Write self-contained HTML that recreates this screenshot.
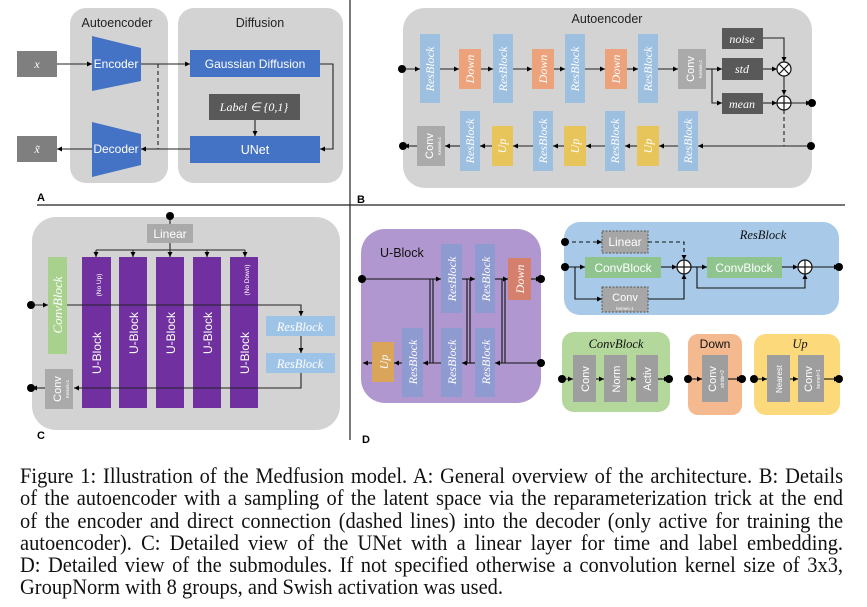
<!DOCTYPE html>
<html><head><meta charset="utf-8"><style>
html,body{margin:0;padding:0;background:#fff;width:867px;height:607px;overflow:hidden}
svg{position:absolute;left:0;top:0}
.cap{position:absolute;left:20px;width:885px;top:465px;font-family:"Liberation Serif",serif;font-size:22px;line-height:22.3px;color:#111;transform:scaleX(0.93);transform-origin:0 0}
.cap div{text-align:justify;text-align-last:justify;white-space:nowrap;overflow:visible}
.cap div.l{text-align-last:left}
.s{font-family:"Liberation Sans",sans-serif}
.m{font-family:"Liberation Serif",serif;font-style:italic}
</style></head><body>
<svg width="867" height="607" viewBox="0 0 867 607">
<defs>
<marker id="a" markerWidth="6" markerHeight="6" refX="5" refY="3" orient="auto" markerUnits="userSpaceOnUse"><path d="M0,0.5 L5,3 L0,5.5z" fill="#000"/></marker>
</defs>
<g stroke="#222" stroke-width="1.2">
<line x1="37" y1="205" x2="845" y2="205"/>
<line x1="350" y1="0" x2="350" y2="440"/>
</g>
<!-- Panel A -->
<rect x="70" y="8" width="98" height="175" rx="16" fill="#d3d3d3"/>
<rect x="178" y="8" width="165" height="175" rx="16" fill="#d3d3d3"/>
<text x="117" y="27" class="s" font-size="12.5" text-anchor="middle" fill="#222">Autoencoder</text>
<text x="260" y="27" class="s" font-size="12.5" text-anchor="middle" fill="#222">Diffusion</text>
<rect x="17" y="51" width="40" height="26" fill="#7f7f7f"/>
<text x="37" y="68" class="m" font-size="12" fill="#fff" text-anchor="middle">x</text>
<rect x="17" y="136" width="40" height="26" fill="#7f7f7f"/>
<text x="37" y="153" class="m" font-size="12" fill="#fff" text-anchor="middle">x̃</text>
<path d="M92,36 L141,48 L141,81 L92,91z" fill="#4472c4"/>
<text x="116" y="68" class="s" font-size="12" fill="#fff" text-anchor="middle">Encoder</text>
<path d="M92,122 L141,134 L141,165 L92,177z" fill="#4472c4"/>
<text x="116" y="153" class="s" font-size="12" fill="#fff" text-anchor="middle">Decoder</text>
<rect x="190" y="50" width="130" height="27" fill="#4472c4"/>
<text x="255" y="68" class="s" font-size="12" fill="#fff" text-anchor="middle">Gaussian Diffusion</text>
<rect x="209" y="94" width="91" height="26" fill="#595959"/>
<text x="254" y="111" class="m" font-size="12" fill="#fff" text-anchor="middle">Label ∈ {0,1}</text>
<rect x="190" y="136" width="130" height="27" fill="#4472c4"/>
<text x="255" y="154" class="s" font-size="12.5" fill="#fff" text-anchor="middle">UNet</text>
<g stroke="#222" stroke-width="1.1" fill="none">
<line x1="57" y1="64" x2="92" y2="64" marker-end="url(#a)"/>
<line x1="141" y1="64" x2="190" y2="64" marker-end="url(#a)"/>
<line x1="158" y1="64" x2="158" y2="149" stroke-dasharray="4,3"/>
<polyline points="320,64 333,64 333,149 320,149" marker-end="url(#a)"/>
<line x1="190" y1="149" x2="141" y2="149" marker-end="url(#a)"/>
<line x1="92" y1="149" x2="57" y2="149" marker-end="url(#a)"/>
<line x1="255" y1="120" x2="255" y2="136" marker-end="url(#a)"/>
</g>
<text x="37" y="201" class="s" font-size="11" font-weight="bold">A</text>

<!-- Panel B -->
<rect x="403" y="8" width="409" height="180" rx="22" fill="#d3d3d3"/>
<text x="607" y="23" class="s" font-size="12.5" text-anchor="middle" fill="#222">Autoencoder</text>
<g fill="#9dbfe0">
<rect x="420" y="34" width="20" height="69"/><rect x="493" y="34" width="20" height="69"/>
<rect x="565" y="34" width="20" height="69"/><rect x="638" y="34" width="20" height="69"/>
<rect x="460" y="111" width="20" height="60"/><rect x="533" y="111" width="20" height="60"/>
<rect x="605" y="111" width="20" height="60"/><rect x="678" y="111" width="20" height="60"/>
</g>
<g fill="#eca27a"><rect x="459" y="49" width="22" height="40"/><rect x="532" y="49" width="22" height="40"/><rect x="605" y="49" width="22" height="40"/></g>
<g fill="#e8c55a"><rect x="492" y="126" width="21" height="40"/><rect x="564" y="126" width="22" height="40"/><rect x="637" y="126" width="22" height="40"/></g>
<rect x="678" y="49" width="28" height="40" fill="#aaaaaa"/>
<rect x="417" y="126" width="28" height="40" fill="#aaaaaa"/>
<g class="m" font-size="12" fill="#fff" text-anchor="middle">
<text transform="translate(434,69) rotate(-90)">ResBlock</text>
<text transform="translate(507,69) rotate(-90)">ResBlock</text>
<text transform="translate(579,69) rotate(-90)">ResBlock</text>
<text transform="translate(652,69) rotate(-90)">ResBlock</text>
<text transform="translate(474,141) rotate(-90)">ResBlock</text>
<text transform="translate(547,141) rotate(-90)">ResBlock</text>
<text transform="translate(619,141) rotate(-90)">ResBlock</text>
<text transform="translate(692,141) rotate(-90)">ResBlock</text>
<text transform="translate(474,69) rotate(-90)">Down</text>
<text transform="translate(547,69) rotate(-90)">Down</text>
<text transform="translate(620,69) rotate(-90)">Down</text>
<text transform="translate(506,146) rotate(-90)">Up</text>
<text transform="translate(579,146) rotate(-90)">Up</text>
<text transform="translate(652,146) rotate(-90)">Up</text>
</g>
<g class="s" fill="#fff" text-anchor="middle">
<text transform="translate(694,69) rotate(-90)" font-size="11">Conv</text>
<text transform="translate(702,69) rotate(-90)" font-size="4.5">Kernel=1</text>
<text transform="translate(433,146) rotate(-90)" font-size="11">Conv</text>
<text transform="translate(441,146) rotate(-90)" font-size="4.5">Kernel=1</text>
</g>
<g fill="#595959"><rect x="722" y="28" width="41" height="21"/><rect x="722" y="58" width="41" height="22"/><rect x="722" y="93" width="41" height="21"/></g>
<g class="m" font-size="12" fill="#fff" text-anchor="middle">
<text x="742" y="43">noise</text><text x="742" y="73">std</text><text x="742" y="108">mean</text>
</g>
<g stroke="#222" stroke-width="1.1" fill="none">
<line x1="403" y1="69" x2="420" y2="69" marker-end="url(#a)"/>
<line x1="440" y1="69" x2="459" y2="69" marker-end="url(#a)"/>
<line x1="481" y1="69" x2="493" y2="69" marker-end="url(#a)"/>
<line x1="513" y1="69" x2="532" y2="69" marker-end="url(#a)"/>
<line x1="554" y1="69" x2="565" y2="69" marker-end="url(#a)"/>
<line x1="585" y1="69" x2="605" y2="69" marker-end="url(#a)"/>
<line x1="627" y1="69" x2="638" y2="69" marker-end="url(#a)"/>
<line x1="658" y1="69" x2="678" y2="69" marker-end="url(#a)"/>
<line x1="706" y1="69" x2="722" y2="69" marker-end="url(#a)"/>
<polyline points="712,69 712,103 722,103" marker-end="url(#a)"/>
<polyline points="763,38 784,38 784,62" marker-end="url(#a)"/>
<line x1="763" y1="69" x2="777" y2="69" marker-end="url(#a)"/>
<line x1="784" y1="76" x2="784" y2="95" marker-end="url(#a)"/>
<line x1="763" y1="103" x2="777" y2="103" marker-end="url(#a)"/>
<line x1="791" y1="103" x2="811" y2="103" marker-end="url(#a)"/>
<line x1="784" y1="110" x2="784" y2="146" stroke-dasharray="4,3"/>
<line x1="811" y1="146" x2="698" y2="146" marker-end="url(#a)"/>
<line x1="678" y1="146" x2="659" y2="146" marker-end="url(#a)"/>
<line x1="637" y1="146" x2="625" y2="146" marker-end="url(#a)"/>
<line x1="605" y1="146" x2="586" y2="146" marker-end="url(#a)"/>
<line x1="564" y1="146" x2="553" y2="146" marker-end="url(#a)"/>
<line x1="533" y1="146" x2="513" y2="146" marker-end="url(#a)"/>
<line x1="492" y1="146" x2="480" y2="146" marker-end="url(#a)"/>
<line x1="460" y1="146" x2="445" y2="146" marker-end="url(#a)"/>
<line x1="417" y1="146" x2="404" y2="146" marker-end="url(#a)"/>
</g>
<g stroke="#111" stroke-width="1.2" fill="#fff">
<circle cx="784" cy="69" r="7"/><path d="M779,64 L789,74 M789,64 L779,74"/>
<circle cx="784" cy="103" r="7"/><path d="M777,103 L791,103 M784,96 L784,110"/>
</g>
<g fill="#000"><circle cx="402" cy="69" r="4"/><circle cx="812" cy="103" r="4"/><circle cx="403" cy="146" r="4"/><circle cx="811" cy="146" r="4"/></g>
<text x="357" y="203" class="s" font-size="11" font-weight="bold">B</text>

<!-- Panel C -->
<rect x="32" y="217" width="308" height="213" rx="24" fill="#d3d3d3"/>
<rect x="147" y="224" width="46" height="19" fill="#aaaaaa"/>
<text x="170" y="238" class="s" font-size="12" fill="#fff" text-anchor="middle">Linear</text>
<rect x="48" y="257" width="19" height="97" fill="#a9d18e"/>
<text transform="translate(62,305) rotate(-90)" class="m" font-size="13" fill="#fff" text-anchor="middle">ConvBlock</text>
<g fill="#7030a0">
<rect x="82" y="257" width="29" height="151"/><rect x="119" y="257" width="28" height="151"/>
<rect x="156" y="257" width="28" height="151"/><rect x="193" y="257" width="28" height="151"/>
<rect x="230" y="257" width="28" height="151"/>
</g>
<g class="s" fill="#fff" font-size="12" text-anchor="middle">
<text transform="translate(101,353) rotate(-90)">U-Block</text>
<text transform="translate(138,333) rotate(-90)">U-Block</text>
<text transform="translate(175,333) rotate(-90)">U-Block</text>
<text transform="translate(212,333) rotate(-90)">U-Block</text>
<text transform="translate(249,353) rotate(-90)">U-Block</text>
<text transform="translate(101,285) rotate(-90)" font-size="6.5">(No Up)</text>
<text transform="translate(249,280) rotate(-90)" font-size="6.5">(No Down)</text>
</g>
<rect x="266" y="316" width="69" height="20" fill="#9dc3e6"/>
<rect x="266" y="353" width="69" height="20" fill="#9dc3e6"/>
<text x="300" y="331" class="m" font-size="12.5" fill="#fff" text-anchor="middle">ResBlock</text>
<text x="300" y="368" class="m" font-size="12.5" fill="#fff" text-anchor="middle">ResBlock</text>
<rect x="45" y="369" width="28" height="40" fill="#aaaaaa"/>
<text transform="translate(61,389) rotate(-90)" class="s" font-size="11" fill="#fff" text-anchor="middle">Conv</text>
<text transform="translate(69,389) rotate(-90)" class="s" font-size="4.5" fill="#fff" text-anchor="middle">Kernel=1</text>
<g stroke="#222" stroke-width="1.1" fill="none">
<line x1="170" y1="216" x2="170" y2="224"/>
<line x1="170" y1="243" x2="170" y2="250"/>
<line x1="96" y1="250" x2="245" y2="250"/>
<line x1="96" y1="250" x2="96" y2="257" marker-end="url(#a)"/>
<line x1="133" y1="250" x2="133" y2="257" marker-end="url(#a)"/>
<line x1="170" y1="250" x2="170" y2="257" marker-end="url(#a)"/>
<line x1="207" y1="250" x2="207" y2="257" marker-end="url(#a)"/>
<line x1="245" y1="250" x2="245" y2="257" marker-end="url(#a)"/>
<line x1="31" y1="305" x2="48" y2="305" marker-end="url(#a)"/>
<polyline points="67,305 301,305 301,316" marker-end="url(#a)"/>
<line x1="301" y1="336" x2="301" y2="353" marker-end="url(#a)"/>
<polyline points="301,373 301,388 74,388" marker-end="url(#a)"/>
<line x1="45" y1="388" x2="32" y2="388" marker-end="url(#a)"/>
</g>
<g fill="#000"><circle cx="170" cy="216" r="4"/><circle cx="31" cy="305" r="4"/><circle cx="31" cy="388" r="4"/></g>
<text x="37" y="439" class="s" font-size="11" font-weight="bold">C</text>

<!-- Panel D -->
<rect x="361" y="229" width="180" height="174" rx="24" fill="#b197cf"/>
<text x="380" y="257" class="s" font-size="12.5" fill="#111">U-Block</text>
<g fill="#8e9bd0">
<rect x="441" y="244" width="21" height="69"/><rect x="475" y="244" width="20" height="69"/>
<rect x="402" y="328" width="21" height="69"/><rect x="441" y="328" width="21" height="69"/><rect x="475" y="328" width="20" height="69"/>
</g>
<rect x="508" y="258" width="23" height="42" fill="#d4806c"/>
<rect x="372" y="342" width="22" height="40" fill="#d9a55a"/>
<g class="m" font-size="12" fill="#fff" text-anchor="middle">
<text transform="translate(456,279) rotate(-90)">ResBlock</text>
<text transform="translate(490,279) rotate(-90)">ResBlock</text>
<text transform="translate(417,362) rotate(-90)">ResBlock</text>
<text transform="translate(456,362) rotate(-90)">ResBlock</text>
<text transform="translate(490,362) rotate(-90)">ResBlock</text>
<text transform="translate(524,279) rotate(-90)">Down</text>
<text transform="translate(388,362) rotate(-90)">Up</text>
</g>
<g stroke="#111" stroke-width="1.1" fill="none">
<line x1="361" y1="279" x2="441" y2="279" marker-end="url(#a)"/>
<line x1="462" y1="279" x2="475" y2="279" marker-end="url(#a)"/>
<line x1="495" y1="279" x2="508" y2="279" marker-end="url(#a)"/>
<line x1="531" y1="279" x2="541" y2="279" marker-end="url(#a)"/>
<line x1="541" y1="363" x2="495" y2="363" marker-end="url(#a)"/>
<line x1="475" y1="363" x2="462" y2="363" marker-end="url(#a)"/>
<line x1="441" y1="363" x2="423" y2="363" marker-end="url(#a)"/>
<line x1="402" y1="363" x2="394" y2="363" marker-end="url(#a)"/>
<line x1="372" y1="363" x2="363" y2="363" marker-end="url(#a)"/>
<line x1="430" y1="279" x2="430" y2="363"/><line x1="433" y1="279" x2="433" y2="363"/>
<line x1="467" y1="279" x2="467" y2="363"/><line x1="470" y1="279" x2="470" y2="363"/>
<line x1="502" y1="279" x2="502" y2="363"/><line x1="505" y1="279" x2="505" y2="363"/>
</g>
<g fill="#000"><circle cx="362" cy="279" r="4"/><circle cx="541" cy="279" r="4"/><circle cx="541" cy="363" r="4"/></g>

<!-- ResBlock detail -->
<rect x="564" y="222" width="275" height="93" rx="16" fill="#a8c9e8"/>
<text x="763" y="239" class="m" font-size="12.5" fill="#111" text-anchor="middle">ResBlock</text>
<rect x="602" y="231" width="46" height="22" fill="#a6a6a6" stroke="#555" stroke-dasharray="2,1.5"/>
<text x="625" y="246" class="s" font-size="12" fill="#fff" text-anchor="middle">Linear</text>
<rect x="585" y="257" width="76" height="21" fill="#8fc48f"/>
<text x="623" y="272" class="s" font-size="12" fill="#fff" text-anchor="middle">ConvBlock</text>
<rect x="707" y="257" width="75" height="21" fill="#8fc48f"/>
<text x="744" y="272" class="s" font-size="12" fill="#fff" text-anchor="middle">ConvBlock</text>
<rect x="602" y="287" width="46" height="25" fill="#a6a6a6" stroke="#555" stroke-dasharray="2,1.5"/>
<text x="625" y="301" class="s" font-size="11" fill="#fff" text-anchor="middle">Conv</text>
<text x="625" y="310" class="s" font-size="4.5" fill="#fff" text-anchor="middle">kernel=1</text>
<g stroke="#111" stroke-width="1.1" fill="none">
<line x1="565" y1="242" x2="602" y2="242" stroke-dasharray="4,3" marker-end="url(#a)"/>
<polyline points="648,242 684,242 684,260" stroke-dasharray="4,3" marker-end="url(#a)"/>
<line x1="565" y1="267" x2="585" y2="267" marker-end="url(#a)"/>
<polyline points="575,267 575,299 602,299" marker-end="url(#a)"/>
<polyline points="648,299 684,299 684,274" marker-end="url(#a)"/>
<line x1="661" y1="267" x2="677" y2="267" marker-end="url(#a)"/>
<line x1="691" y1="267" x2="707" y2="267" marker-end="url(#a)"/>
<polyline points="697,267 697,288 805,288 805,274" marker-end="url(#a)"/>
<line x1="782" y1="267" x2="798" y2="267" marker-end="url(#a)"/>
<line x1="812" y1="267" x2="839" y2="267" marker-end="url(#a)"/>
</g>
<g stroke="#111" stroke-width="1.2" fill="#fff">
<circle cx="684" cy="267" r="7"/><path d="M677,267 L691,267 M684,260 L684,274"/>
<circle cx="805" cy="267" r="7"/><path d="M798,267 L812,267 M805,260 L805,274"/>
</g>
<g fill="#000"><circle cx="565" cy="242" r="4"/><circle cx="565" cy="267" r="4"/><circle cx="839" cy="267" r="4"/></g>

<!-- ConvBlock / Down / Up -->
<rect x="562" y="332" width="108" height="80" rx="12" fill="#b4d89b"/>
<text x="616" y="348" class="m" font-size="12.5" fill="#111" text-anchor="middle">ConvBlock</text>
<rect x="688" y="334" width="54" height="81" rx="10" fill="#f4b98e"/>
<text x="715" y="348" class="s" font-size="12" fill="#111" text-anchor="middle">Down</text>
<rect x="754" y="334" width="86" height="81" rx="12" fill="#fcd97a"/>
<text x="800" y="348" class="m" font-size="12.5" fill="#111" text-anchor="middle">Up</text>
<g fill="#9e9e9e">
<rect x="573" y="355" width="23" height="47"/><rect x="604" y="355" width="23" height="47"/><rect x="636" y="355" width="22" height="47"/>
<rect x="702" y="355" width="26" height="47"/>
<rect x="767" y="355" width="23" height="47"/><rect x="798" y="355" width="26" height="47"/>
</g>
<g class="s" fill="#fff" text-anchor="middle" font-size="11">
<text transform="translate(589,379) rotate(-90)">Conv</text>
<text transform="translate(620,379) rotate(-90)">Norm</text>
<text transform="translate(651,379) rotate(-90)">Activ</text>
<text transform="translate(716,379) rotate(-90)">Conv</text>
<text transform="translate(724,379) rotate(-90)" font-size="5">stride=2</text>
<text transform="translate(782,379) rotate(-90)" font-size="8">Nearest</text>
<text transform="translate(812,379) rotate(-90)">Conv</text>
<text transform="translate(820,379) rotate(-90)" font-size="5">kernel=1</text>
</g>
<g stroke="#111" stroke-width="1.1" fill="none">
<line x1="562" y1="379" x2="573" y2="379" marker-end="url(#a)"/>
<line x1="596" y1="379" x2="604" y2="379" marker-end="url(#a)"/>
<line x1="627" y1="379" x2="636" y2="379" marker-end="url(#a)"/>
<line x1="658" y1="379" x2="669" y2="379" marker-end="url(#a)"/>
<line x1="688" y1="379" x2="702" y2="379" marker-end="url(#a)"/>
<line x1="728" y1="379" x2="742" y2="379" marker-end="url(#a)"/>
<line x1="754" y1="379" x2="767" y2="379" marker-end="url(#a)"/>
<line x1="790" y1="379" x2="798" y2="379" marker-end="url(#a)"/>
<line x1="824" y1="379" x2="839" y2="379" marker-end="url(#a)"/>
</g>
<g fill="#000">
<circle cx="562" cy="379" r="4"/><circle cx="669" cy="379" r="4"/>
<circle cx="688" cy="379" r="4"/><circle cx="742" cy="379" r="4"/>
<circle cx="754" cy="379" r="4"/><circle cx="839" cy="379" r="4"/>
</g>
<text x="362" y="443" class="s" font-size="11" font-weight="bold">D</text>
</svg>
<div class="cap">
<div>Figure 1: Illustration of the Medfusion model. A: General overview of the architecture. B: Details</div>
<div>of the autoencoder with a sampling of the latent space via the reparameterization trick at the end</div>
<div>of the encoder and direct connection (dashed lines) into the decoder (only active for training the</div>
<div>autoencoder). C: Detailed view of the UNet with a linear layer for time and label embedding.</div>
<div>D: Detailed view of the submodules. If not specified otherwise a convolution kernel size of 3x3,</div>
<div class="l">GroupNorm with 8 groups, and Swish activation was used.</div>
</div>
</body></html>
